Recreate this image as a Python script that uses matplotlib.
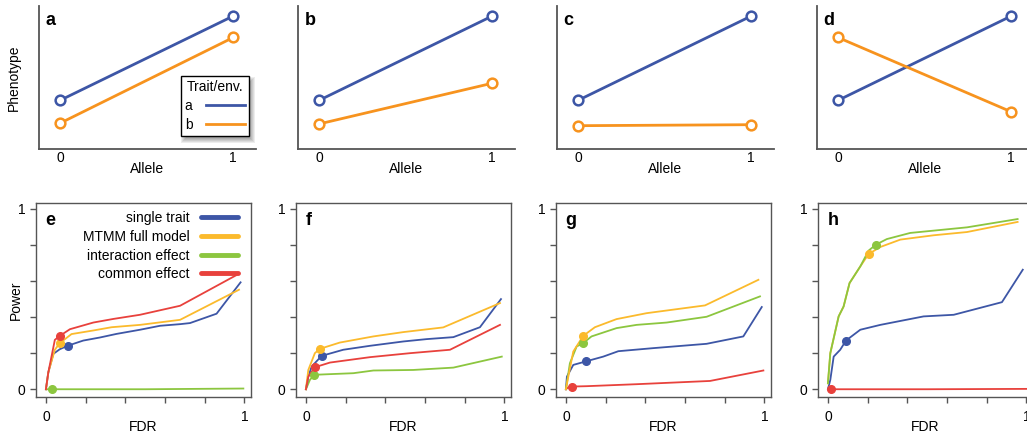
import matplotlib.pyplot as plt
from matplotlib.patches import Rectangle
from matplotlib.transforms import IdentityTransform

plt.rcParams['font.family'] = ['Liberation Sans', 'DejaVu Sans']

# ---- top row: phenotype vs allele, two traits/environments ----
allele = [0, 1]
pheno_a_a = [0.34, 0.93]
pheno_a_b = [0.18, 0.78]
pheno_b_a = [0.34, 0.93]
pheno_b_b = [0.175, 0.46]
pheno_c_a = [0.34, 0.93]
pheno_c_b = [0.163, 0.17]
pheno_d_a = [0.34, 0.93]
pheno_d_b = [0.78, 0.26]

# ---- bottom row: power vs FDR for four tests ----
methods = ['single trait', 'MTMM full model', 'interaction effect', 'common effect']

# panel e
e_single_x = [0, 0.012, 0.037, 0.07, 0.109, 0.188, 0.272, 0.356, 0.474, 0.575, 0.676, 0.726, 0.86, 0.981]
e_single_y = [0, 0.093, 0.196, 0.222, 0.241, 0.27, 0.287, 0.307, 0.33, 0.352, 0.361, 0.367, 0.419, 0.593]
e_full_x = [0, 0.012, 0.045, 0.07, 0.129, 0.239, 0.331, 0.474, 0.676, 0.973]
e_full_y = [0, 0.093, 0.219, 0.256, 0.306, 0.326, 0.344, 0.357, 0.385, 0.552]
e_inter_x = [0, 0.029, 0.5, 0.995]
e_inter_y = [0, 0.0, 0.0, 0.004]
e_common_x = [0, 0.012, 0.045, 0.07, 0.121, 0.239, 0.34, 0.474, 0.676, 0.97]
e_common_y = [0, 0.093, 0.274, 0.296, 0.333, 0.37, 0.39, 0.413, 0.463, 0.639]
e_dots_x = [0.109, 0.07, 0.029, 0.07]
e_dots_y = [0.241, 0.256, 0.0, 0.296]

# panel f
f_single_x = [0, 0.012, 0.029, 0.079, 0.188, 0.323, 0.491, 0.608, 0.743, 0.877, 0.983]
f_single_y = [0, 0.07, 0.126, 0.185, 0.219, 0.241, 0.265, 0.278, 0.289, 0.344, 0.5]
f_full_x = [0, 0.012, 0.045, 0.07, 0.171, 0.34, 0.491, 0.692, 0.978]
f_full_y = [0, 0.107, 0.2, 0.224, 0.259, 0.293, 0.317, 0.343, 0.478]
f_inter_x = [0, 0.02, 0.042, 0.104, 0.239, 0.34, 0.541, 0.743, 0.987]
f_inter_y = [0, 0.052, 0.08, 0.083, 0.089, 0.104, 0.107, 0.12, 0.181]
f_common_x = [0, 0.012, 0.045, 0.121, 0.323, 0.524, 0.726, 0.978]
f_common_y = [0, 0.07, 0.122, 0.148, 0.178, 0.2, 0.219, 0.357]
f_dots_x = [0.079, 0.07, 0.042, 0.045]
f_dots_y = [0.185, 0.224, 0.08, 0.122]

# panel g
g_single_x = [0, 0.005, 0.037, 0.099, 0.188, 0.264, 0.44, 0.709, 0.894, 0.987]
g_single_y = [0, 0.07, 0.135, 0.154, 0.181, 0.211, 0.228, 0.252, 0.293, 0.456]
g_full_x = [0, 0.012, 0.037, 0.087, 0.146, 0.255, 0.407, 0.701, 0.97]
g_full_y = [0, 0.07, 0.209, 0.296, 0.344, 0.389, 0.422, 0.465, 0.607]
g_inter_x = [0, 0.02, 0.054, 0.087, 0.129, 0.255, 0.356, 0.508, 0.709, 0.978]
g_inter_y = [0, 0.144, 0.237, 0.256, 0.293, 0.339, 0.357, 0.37, 0.402, 0.515]
g_common_x = [0, 0.012, 0.032, 0.104, 0.356, 0.726, 0.995]
g_common_y = [0, 0.011, 0.015, 0.017, 0.028, 0.046, 0.104]
g_dots_x = [0.099, 0.087, 0.087, 0.032]
g_dots_y = [0.154, 0.296, 0.256, 0.015]

# panel h
h_single_x = [0, 0.012, 0.029, 0.062, 0.091, 0.163, 0.264, 0.482, 0.634, 0.877, 0.982]
h_single_y = [0, 0.052, 0.181, 0.219, 0.27, 0.33, 0.357, 0.404, 0.413, 0.483, 0.663]
h_full_x = [0, 0.012, 0.054, 0.079, 0.109, 0.163, 0.205, 0.264, 0.365, 0.533, 0.701, 0.956]
h_full_y = [0.033, 0.2, 0.404, 0.459, 0.589, 0.681, 0.75, 0.789, 0.83, 0.854, 0.872, 0.928]
h_inter_x = [0, 0.012, 0.054, 0.079, 0.109, 0.163, 0.205, 0.242, 0.297, 0.415, 0.701, 0.956]
h_inter_y = [0.033, 0.2, 0.404, 0.459, 0.589, 0.681, 0.769, 0.802, 0.833, 0.867, 0.898, 0.944]
h_common_x = [0, 0.017, 0.5, 1.0]
h_common_y = [0, 0.0, 0.0, 0.002]
h_dots_x = [0.091, 0.205, 0.242, 0.017]
h_dots_y = [0.27, 0.75, 0.802, 0.0]

blue = '#3D56A6'
orange = '#F7931E'
yellow = '#FBBA2C'
green = '#8CC63F'
red = '#E8413C'
method_colors = [blue, yellow, green, red]
spine_col = '#555555'

W, H = 1027, 437
fig = plt.figure(figsize=(W / 100, H / 100), dpi=100)


def add_ax(left, top, right, bottom):
    return fig.add_axes([left / W, 1 - bottom / H, (right - left) / W, (bottom - top) / H])


# top row
top_data = [('a', pheno_a_a, pheno_a_b), ('b', pheno_b_a, pheno_b_b),
            ('c', pheno_c_a, pheno_c_b), ('d', pheno_d_a, pheno_d_b)]
top_lefts = [39, 298, 557, 817]
leg_a = None
for (lab, ya, yb), left in zip(top_data, top_lefts):
    ax = add_ax(left, 6, left + 217, 149)
    ax.plot(allele, ya, '-o', color=blue, lw=2, ms=7, mfc='white', mew=1.8)
    ax.plot(allele, yb, '-o', color=orange, lw=2, ms=7, mfc='white', mew=1.8)
    ax.set_xlim(-0.121, 1.131)
    ax.set_ylim(0, 1)
    for s in ['top', 'right']:
        ax.spines[s].set_visible(False)
    for s in ['left', 'bottom']:
        ax.spines[s].set_color(spine_col)
        ax.spines[s].set_linewidth(1.3)
    ax.set_xticks([0, 1])
    ax.set_yticks([])
    ax.tick_params(axis='x', length=0, pad=1.5, labelsize=10)
    ax.set_xlabel('Allele', fontsize=10, labelpad=-2)
    ax.text(0.03, 0.9, lab, transform=ax.transAxes, fontsize=13, fontweight='bold',
            va='center', ha='left')
    if lab == 'a':
        ax.set_ylabel('Phenotype', fontsize=10)
        ax.yaxis.set_label_coords(-0.083, 0.5)
        lines = [plt.Line2D([], [], color=blue, lw=2),
                 plt.Line2D([], [], color=orange, lw=2)]
        leg_a = ax.legend(lines, ['a', 'b'], title='Trait/env.', loc='lower right',
                          bbox_to_anchor=(0.97, 0.09), borderaxespad=0,
                          markerfirst=False, fontsize=10, title_fontsize=10,
                          handlelength=2.8, fancybox=False, framealpha=1,
                          edgecolor='black', borderpad=0.3, labelspacing=0.35,
                          handletextpad=1.0)
        leg_a.get_frame().set_linewidth(1.0)
        leg_a.set_zorder(6)
        ax_a = ax

# bottom row
bottom_data = [
    ('e', [(e_single_x, e_single_y), (e_full_x, e_full_y), (e_inter_x, e_inter_y),
           (e_common_x, e_common_y)], e_dots_x, e_dots_y),
    ('f', [(f_single_x, f_single_y), (f_full_x, f_full_y), (f_inter_x, f_inter_y),
           (f_common_x, f_common_y)], f_dots_x, f_dots_y),
    ('g', [(g_single_x, g_single_y), (g_full_x, g_full_y), (g_inter_x, g_inter_y),
           (g_common_x, g_common_y)], g_dots_x, g_dots_y),
    ('h', [(h_single_x, h_single_y), (h_full_x, h_full_y), (h_inter_x, h_inter_y),
           (h_common_x, h_common_y)], h_dots_x, h_dots_y),
]
bottom_lefts = [36, 296, 556, 818]
for (lab, curves, dx, dy), left in zip(bottom_data, bottom_lefts):
    ax = add_ax(left, 203, left + 214.7, 397)
    order = [2, 0, 1, 3] if lab in ('e', 'f') else [3, 0, 2, 1]
    if lab == 'h':
        order = [3, 0, 1, 2]
    for i in order:
        x, y = curves[i]
        ax.plot(x, y, color=method_colors[i], lw=1.3, label=methods[i])
    for i in order:
        ax.plot(dx[i], dy[i], 'o', color=method_colors[i], ms=5.5, zorder=5)
    ax.set_xlim(-0.05, 1.032)
    ax.set_ylim(-0.043, 1.033)
    for s in ax.spines.values():
        s.set_color(spine_col)
        s.set_linewidth(1.0)
    ticks = [0, 0.2, 0.4, 0.6, 0.8, 1.0]
    ax.set_xticks(ticks)
    ax.set_xticklabels(['0', '', '', '', '', '1'])
    ax.set_yticks(ticks)
    ax.set_yticklabels(['0', '', '', '', '', '1'])
    ax.tick_params(length=4.5, width=1.0, color=spine_col, labelsize=10, pad=3)
    ax.tick_params(axis='x', pad=5)
    ax.set_xlabel('FDR', fontsize=10, labelpad=-3)
    ax.text(0.045, 0.912, lab, transform=ax.transAxes, fontsize=13, fontweight='bold',
            va='center', ha='left')
    if lab == 'e':
        ax.set_ylabel('Power', fontsize=10)
        ax.yaxis.set_label_coords(-0.062, 0.5)
        handles = [plt.Line2D([], [], color=c, lw=3.5, solid_capstyle='round')
                   for c in method_colors]
        ax.legend(handles, methods, loc='upper right', bbox_to_anchor=(0.98, 1.0),
                  frameon=False, markerfirst=False, fontsize=10, handlelength=2.7,
                  handletextpad=0.8, labelspacing=0.33, borderaxespad=0.2)

# soft drop shadow under the trait legend, built from stacked translucent boxes
fig.canvas.draw()
bb = leg_a.get_frame().get_window_extent()
for k in range(6):
    ax_a.add_patch(Rectangle((bb.x0 + 3 - k + 2, bb.y0 - 4 - k + 2),
                             bb.width + 2 * k - 4, bb.height + 2 * k - 4,
                             transform=IdentityTransform(), facecolor='black',
                             edgecolor='none', alpha=0.07, zorder=5.5, clip_on=False))

fig.savefig('out.png', dpi=100)
